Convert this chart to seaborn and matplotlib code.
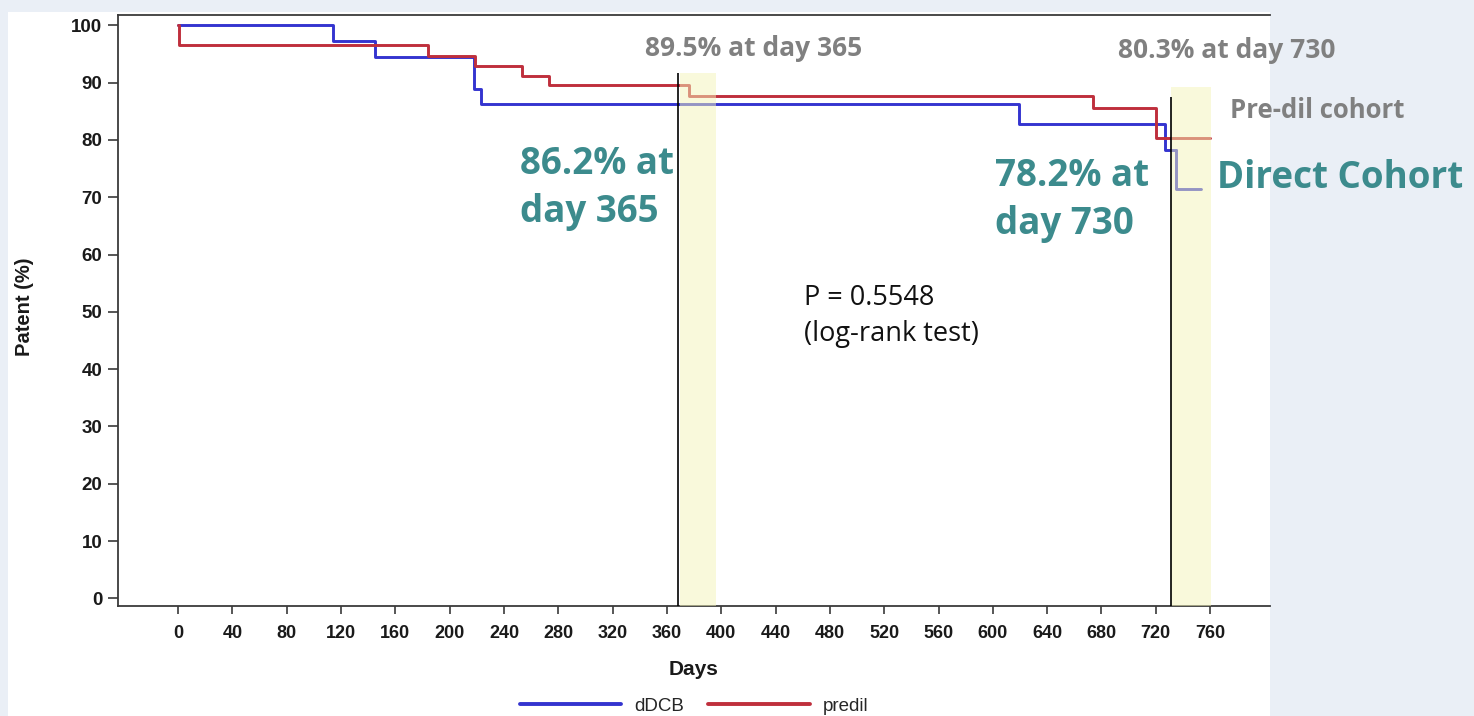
import matplotlib
matplotlib.use("Agg")
import matplotlib.pyplot as plt
from matplotlib.patches import Rectangle
from matplotlib.lines import Line2D
import seaborn as sns
import pandas as pd

# ---------------- data ----------------
ddcb_days = [0, 114, 145, 218, 223, 619, 727, 735]
ddcb_surv = [100, 97.2, 94.4, 88.8, 86.2, 82.8, 78.2, 78.2]

predil_days = [0, 1, 184, 219, 253, 273, 376, 674, 720, 760]
predil_surv = [100, 96.6, 94.7, 92.9, 91.2, 89.5, 87.6, 85.5, 80.3, 80.3]

group_names = ["dDCB", "predil"]
x_ticks = list(range(0, 761, 40))
y_ticks = list(range(0, 101, 10))

# ---------------- style ----------------
sns.set_style("ticks")
plt.rcParams["font.family"] = ["Liberation Sans", "DejaVu Sans"]

W, H = 1474, 716
BLUE = "#3434CF"
RED = "#BF2F3C"
GRAY = "#808080"
TEAL = "#3C8B8D"
SPINE = "#3a3a3a"
BAND = (245 / 255, 245 / 255, 185 / 255)
ANN_FONT = ["Open Sans", "DejaVu Sans"]

fig = plt.figure(figsize=(W / 100, H / 100), dpi=100)
fig.patch.set_facecolor("#EAEFF6")
fig.add_artist(Rectangle((8 / W, 0), (1270 - 8) / W, (H - 12) / H,
                         transform=fig.transFigure, facecolor="white",
                         edgecolor="none", zorder=-1))

ax = fig.add_axes([117.5 / W, (H - 606) / H, (1270 - 117.5) / W, (606 - 15) / H])
ax.set_facecolor("white")

df = pd.concat([
    pd.DataFrame({"day": ddcb_days, "surv": ddcb_surv, "group": group_names[0]}),
    pd.DataFrame({"day": predil_days, "surv": predil_surv, "group": group_names[1]}),
], ignore_index=True)

sns.lineplot(data=df, x="day", y="surv", hue="group", hue_order=group_names,
             palette={group_names[0]: BLUE, group_names[1]: RED},
             estimator=None, sort=False, drawstyle="steps-post",
             linewidth=2.1, legend=False, ax=ax, zorder=2)

XMIN, XMAX = -44.6, 804.1
YMIN, YMAX = -1.34, 101.8
ax.set_xlim(XMIN, XMAX)
ax.set_ylim(YMIN, YMAX)

# callout leader for "Direct Cohort"
ax.plot([735, 735, 753], [78.2, 71.4, 71.4], color=BLUE, lw=2.1, zorder=2)

# highlight bands and reference lines
def frac(v):
    return (v - YMIN) / (YMAX - YMIN)

ax.axvspan(369.5, 396, ymin=0, ymax=frac(91.7), color=BAND, alpha=0.5, lw=0, zorder=3)
ax.axvspan(731.5, 761, ymin=0, ymax=frac(89.2), color=BAND, alpha=0.5, lw=0, zorder=3)
ax.vlines(368.5, YMIN, 91.7, color="black", lw=1.2, zorder=4)
ax.vlines(731.0, YMIN, 87.5, color="black", lw=1.2, zorder=4)

# axes styling
for s in ["left", "bottom", "top"]:
    ax.spines[s].set_color(SPINE)
    ax.spines[s].set_linewidth(1.3)
ax.spines["right"].set_visible(False)

ax.set_xticks(x_ticks)
ax.set_yticks(y_ticks)
ax.tick_params(axis="x", direction="out", length=5.5, width=1.2, color=SPINE,
               pad=8.0, labelsize=13, labelcolor="#1a1a1a")
ax.tick_params(axis="y", direction="out", length=7.2, width=1.2, color=SPINE,
               pad=3.6, labelsize=13.5, labelcolor="#1a1a1a")
for lbl in ax.get_xticklabels() + ax.get_yticklabels():
    lbl.set_fontweight("bold")

ax.set_xlabel("Days", fontsize=15, fontweight="bold", color="#1a1a1a")
ax.xaxis.set_label_coords(0.5, -(660 - 606) / 591)
ax.set_ylabel("Patent (%)", fontsize=14.5, fontweight="bold", color="#1a1a1a")
ax.yaxis.set_label_coords((34 - 117.5) / 1152.5, (606 - 307) / 591)

# legend
handles = [Line2D([], [], color=BLUE, lw=2.8), Line2D([], [], color=RED, lw=2.8)]
fig.legend(handles, group_names, loc="center", bbox_to_anchor=(694 / W, 1 - 706 / H),
           ncol=2, frameon=False, handlelength=5.4, handletextpad=0.7,
           columnspacing=1.3, fontsize=13.5, borderpad=0)

# annotations
def ftext(x, y, s, **kw):
    fig.text(x / W, 1 - y / H, s, family=ANN_FONT, va="center", ha="left", **kw)

ftext(645, 48, "89.5% at day 365", color=GRAY, fontsize=19, fontweight="bold")
ftext(1118, 50, "80.3% at day 730", color=GRAY, fontsize=19, fontweight="bold")
ftext(1230, 111, "Pre-dil cohort", color=GRAY, fontsize=18.5, fontweight="bold")
ftext(520, 188, "86.2% at\nday 365", color=TEAL, fontsize=26.5, fontweight="bold", linespacing=1.36)
ftext(995, 200, "78.2% at\nday 730", color=TEAL, fontsize=26.5, fontweight="bold", linespacing=1.36)
ftext(1217, 178, "Direct Cohort", color=TEAL, fontsize=26.5, fontweight="bold")
ftext(804, 316, "P = 0.5548\n(log-rank test)", color="#111111", fontsize=19.5, linespacing=1.38)

fig.savefig("out.png", dpi=100, facecolor=fig.get_facecolor())
